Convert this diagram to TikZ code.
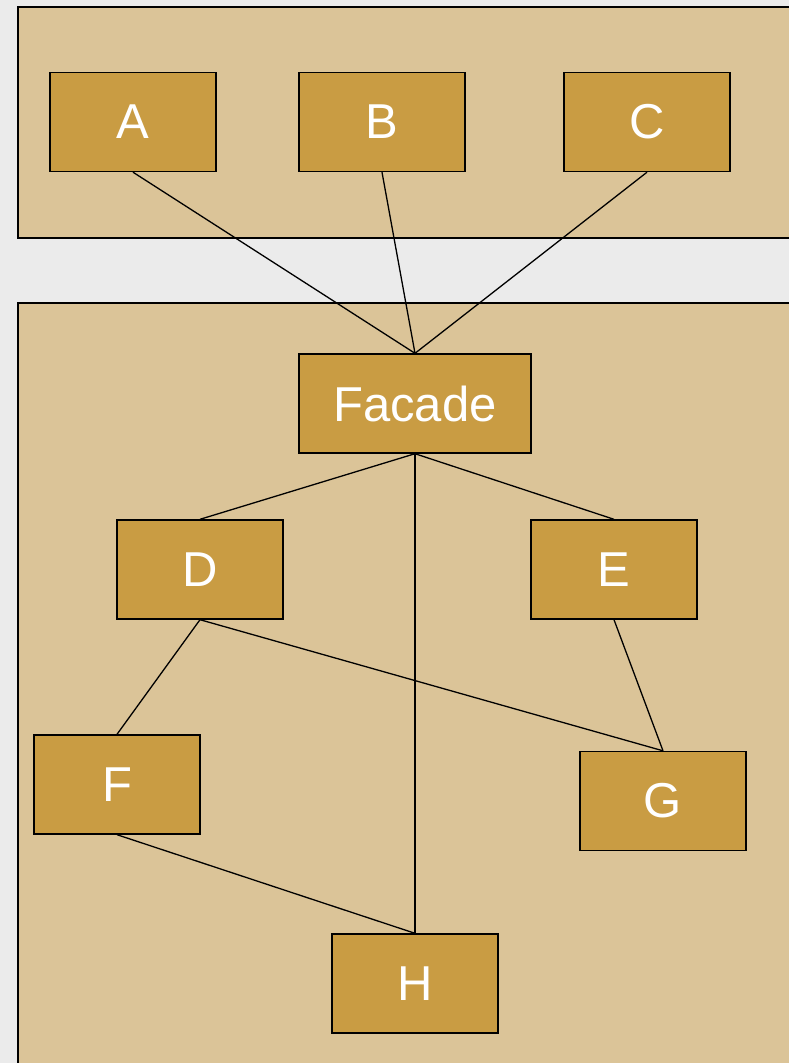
\documentclass[tikz,border=0pt]{standalone}
\usepackage{fontspec}
\setmainfont{Liberation Sans}
\definecolor{bgc}{HTML}{EBEBEB}
\definecolor{panelc}{HTML}{DBC498}
\definecolor{boxc}{HTML}{C99C43}
\begin{document}
\begin{tikzpicture}[x=1pt,y=-1pt,
  box/.style={draw=black,line width=1.4pt,fill=boxc,text=white,minimum width=166pt,minimum height=99pt,inner sep=0pt,font=\fontsize{49}{53}\selectfont},
  panel/.style={draw=black,line width=1.4pt,fill=panelc},
  conn/.style={draw=black,line width=1.3pt}]
\useasboundingbox (0,0) rectangle (789,1063);
\fill[bgc] (0,0) rectangle (789,1063);
\path[panel] (18,7) rectangle (800,238);
\path[panel] (18,303) rectangle (800,1075);
\node[box] (A) at (133,122) {A};
\node[box] (B) at (382,122) {B};
\node[box] (C) at (647,122) {C};
\node[box,minimum width=232pt] (Fa) at (415,403.5) {Facade};
\node[box] (D) at (200,569.5) {D};
\node[box] (E) at (614,569.5) {E};
\node[box] (F) at (117,784.5) {F};
\node[box] (G) at (663,801) {G};
\node[box] (H) at (415,983.5) {H};
\draw[conn] (A.south) -- (Fa.north);
\draw[conn] (B.south) -- (Fa.north);
\draw[conn] (C.south) -- (Fa.north);
\draw[conn] (Fa.south) -- (D.north);
\draw[conn] (Fa.south) -- (E.north);
\draw[conn] (Fa.south) -- (H.north);
\draw[conn] (D.south) -- (F.north);
\draw[conn] (D.south) -- (G.north);
\draw[conn] (E.south) -- (G.north);
\draw[conn] (F.south) -- (H.north);
\end{tikzpicture}
\end{document}
